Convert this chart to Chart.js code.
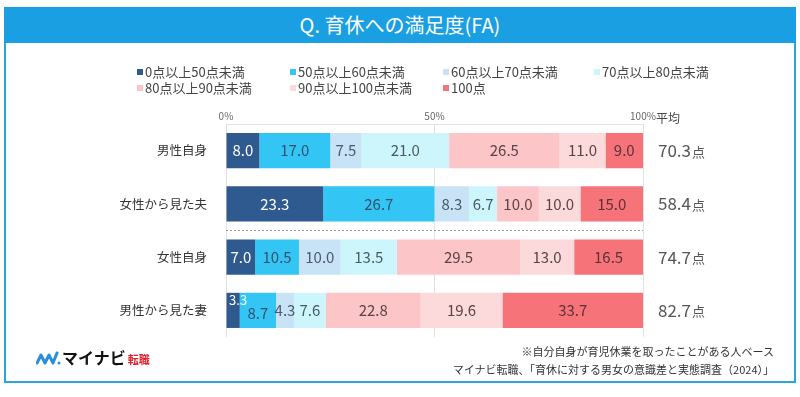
<!DOCTYPE html>
<html>
<head>
<meta charset="utf-8">
<script src="https://cdn.jsdelivr.net/npm/chart.js@4"></script>
<style>
  body { margin: 0; background: #fff; font-family: "Noto Sans CJK JP", "Noto Sans", sans-serif; }
  #wrap { position: relative; width: 800px; height: 397px; overflow: hidden; }
  #frame { position: absolute; left: 4px; top: 7px; width: 788px; height: 372px; border: 2px solid #2aa4e2; }
  #title { position: absolute; left: 4px; top: 7px; width: 792px; height: 36px; background: #1aa0e2;
           color: #fff; font-size: 20px; line-height: 36px; text-align: center; }
  canvas { position: absolute; left: 0; top: 0; }
  .lg { position: absolute; font-size: 13px; color: #444; line-height: 16px; white-space: nowrap; }
  .lg i { display: inline-block; width: 6px; height: 6px; margin-right: 2px; vertical-align: 2px; }
  .note { position: absolute; right: 26px; font-size: 11px; color: #333; white-space: nowrap; }
  #logo { position: absolute; left: 36px; top: 345px; font-weight: bold; font-size: 16px; color: #111; white-space: nowrap; }
  #logo span { color: #e0242f; font-size: 11px; margin-left: 2px; }
</style>
</head>
<body>
<div id="wrap">
  <div id="frame"></div>
  <div id="title">Q. 育休への満足度(FA)</div>
  <canvas id="satisfactionChart" width="800" height="397"></canvas>
  <div id="legend"></div>
  <div id="logo"><svg width="26" height="14" viewBox="0 0 26 14" style="vertical-align:-1px"><polyline points="1,12 5,4 9,12 13,4 17,12 21,2" fill="none" stroke="#2a8fd8" stroke-width="3" stroke-linejoin="round" stroke-linecap="round"/><circle cx="23" cy="12" r="1.5" fill="#2a8fd8"/></svg>マイナビ<span>転職</span></div>
  <div class="note" style="top:343px">※自分自身が育児休業を取ったことがある人ベース</div>
  <div class="note" style="top:361px">マイナビ転職、「育休に対する男女の意識差と実態調査（2024）」</div>
</div>
<script>
// categories and series (percent of respondents)
const categories = ['男性自身', '女性から見た夫', '女性自身', '男性から見た妻'];
const seriesNames = ['0点以上50点未満', '50点以上60点未満', '60点以上70点未満', '70点以上80点未満',
                     '80点以上90点未満', '90点以上100点未満', '100点'];
const s0to50   = [8.0, 23.3, 7.0, 3.3];
const s50to60  = [17.0, 26.7, 10.5, 8.7];
const s60to70  = [7.5, 8.3, 10.0, 4.3];
const s70to80  = [21.0, 6.7, 13.5, 7.6];
const s80to90  = [26.5, 10.0, 29.5, 22.8];
const s90to100 = [11.0, 10.0, 13.0, 19.6];
const s100     = [9.0, 15.0, 16.5, 33.7];
const averages = ['70.3', '58.4', '74.7', '82.7'];
const xTicks = [0, 50, 100];

const colors = ['#2f5a8f', '#33c5f3', '#c8e2f6', '#cdf6fc', '#fcc5c7', '#fcd9da', '#f7737a'];
const textColors = ['#ffffff', '#34506e', '#4a5a6a', '#4a5a6a', '#5b4346', '#5b4346', '#5b3236'];
const allSeries = [s0to50, s50to60, s60to70, s70to80, s80to90, s90to100, s100];

// html legend in a 4-column grid
const legendCols = [137, 290, 443, 594];
const legendEl = document.getElementById('legend');
seriesNames.forEach((name, i) => {
    const d = document.createElement('div');
    d.className = 'lg';
    d.style.left = legendCols[i % 4] + 'px';
    d.style.top = (i < 4 ? 64 : 80) + 'px';
    d.innerHTML = '<i style="background:' + colors[i] + '"></i>' + name;
    legendEl.appendChild(d);
});

const FONT = '"Noto Sans CJK JP", "Noto Sans", sans-serif';

const labelsPlugin = {
    id: 'segmentLabels',
    afterDatasetsDraw(chart) {
        const c = chart.ctx;
        const area = chart.chartArea;
        const yScale = chart.scales.y;
        c.save();
        // dotted separator between husband rows and wife rows
        const sepY = (yScale.getPixelForValue(1) + yScale.getPixelForValue(2)) / 2;
        c.strokeStyle = '#9a9a9a';
        c.lineWidth = 1;
        c.setLineDash([2, 2]);
        c.beginPath();
        c.moveTo(area.left, sepY);
        c.lineTo(area.right, sepY);
        c.stroke();
        c.setLineDash([]);

        c.textAlign = 'center';
        c.textBaseline = 'middle';
        chart.data.datasets.forEach((ds, i) => {
            chart.getDatasetMeta(i).data.forEach((el, j) => {
                const w = Math.abs(el.x - el.base);
                const cx = (el.x + el.base) / 2;
                c.fillStyle = textColors[i];
                if (w < 15) {
                    c.font = '13px ' + FONT;
                    c.fillText(ds.data[j].toFixed(1), cx + 5, el.y - 10);
                } else {
                    c.font = '15px ' + FONT;
                    c.fillText(ds.data[j].toFixed(1), cx, el.y + (w < 40 && i === 1 ? 3 : 0));
                }
            });
        });

        // averages column
        c.textAlign = 'left';
        c.fillStyle = '#444';
        c.font = '12px ' + FONT;
        c.fillText('平均', 656, 118);
        averages.forEach((v, j) => {
            const y = yScale.getPixelForValue(j);
            c.fillStyle = '#555';
            c.font = '17px ' + FONT;
            c.fillText(v, 658, y);
            const tw = c.measureText(v).width;
            c.font = '13px ' + FONT;
            c.fillText('点', 658 + tw + 1, y + 1);
        });
        c.restore();
    }
};

const ctx = document.getElementById('satisfactionChart').getContext('2d');
const satisfactionChart = new Chart(ctx, {
    type: 'bar',
    data: {
        labels: categories,
        datasets: allSeries.map((data, i) => ({
            label: seriesNames[i],
            data: data,
            backgroundColor: colors[i],
            borderWidth: 0,
            barPercentage: 0.66,
            categoryPercentage: 1
        }))
    },
    options: {
        indexAxis: 'y',
        responsive: false,
        animation: false,
        layout: { padding: { top: 104, right: 157, bottom: 60, left: 0 } },
        plugins: {
            legend: { display: false },
            tooltip: { enabled: false }
        },
        scales: {
            x: {
                stacked: true,
                position: 'top',
                min: 0,
                max: 100,
                afterBuildTicks: s => { s.ticks = xTicks.map(v => ({ value: v })); },
                afterFit: s => { s.height = 20; },
                ticks: {
                    callback: v => v + '%',
                    font: { size: 10, family: FONT },
                    color: '#666',
                    padding: 2,
                    maxRotation: 0
                },
                grid: { color: '#e2e2e2', drawTicks: false },
                border: { color: '#e2e2e2' }
            },
            y: {
                stacked: true,
                afterFit: s => { s.width = 226; },
                ticks: {
                    font: { size: 12.5, family: FONT },
                    color: '#333',
                    padding: 11
                },
                grid: { display: false },
                border: { display: false }
            }
        }
    },
    plugins: [labelsPlugin]
});
</script>
</body>
</html>
